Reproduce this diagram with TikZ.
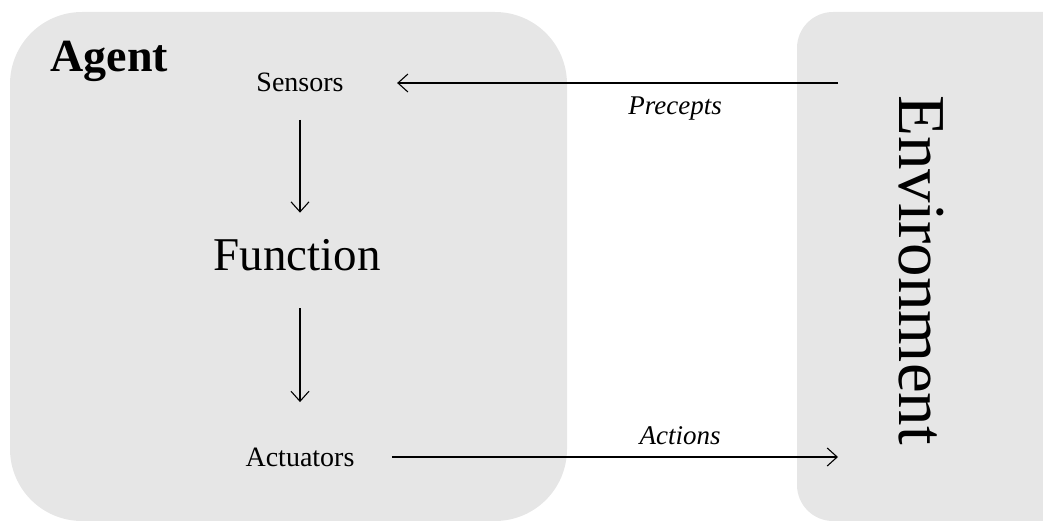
\documentclass[tikz,border=0pt]{standalone}
\usepackage{fontspec}
\setmainfont{Liberation Serif}
\usetikzlibrary{arrows.meta}

\definecolor{boxgray}{HTML}{E6E6E6}

\begin{document}
\begin{tikzpicture}[x=1pt,y=-1pt,line width=1.1pt,
    >={Straight Barb[length=10pt,width=18pt,line width=1.1pt]},
    panel/.style={fill=boxgray,draw=none},
    lbl/.style={inner sep=0pt,font=\fontsize{28}{30}\selectfont},
    edgelbl/.style={inner sep=0pt,font=\fontsize{27}{30}\selectfont\itshape}]
    \useasboundingbox (0,0) rectangle (1043,521);
    \clip (0,0) rectangle (1043,521);
    \fill[panel,rounded corners=72pt] (10,12) rectangle (567,521);
    \fill[panel,rounded corners=36pt] (797,12) rectangle (1080,521);
    \node[anchor=base west,inner sep=0pt,font=\fontsize{46}{48}\selectfont\bfseries] (agent) at (50,72) {Agent};
    \node[inner sep=0pt,rotate=-90,font=\fontsize{67}{70}\selectfont] (env) at (921,270) {Environment};
    \node[lbl] (sen) at (300,82) {Sensors};
    \node[inner sep=0pt,font=\fontsize{47}{50}\selectfont] (fun) at (297,255) {Function};
    \node[lbl] (act) at (300,457) {Actuators};
    \coordinate (pin) at (838,83);
    \coordinate (aout) at (838,457);
    \draw[->,shorten >=53pt] (pin) -- node[edgelbl,pos=0.33,below=13pt] (precepts) {Precepts} (sen.east |- pin);
    \draw[->,shorten <=28pt,shorten >=26pt] (sen) -- (sen |- fun.north);
    \draw[->,shorten <=37pt,shorten >=45pt] (sen |- fun.south) -- (act);
    \draw[->,shorten <=37pt] (act) -- node[edgelbl,pos=0.673,above=12pt] (actions) {Actions} (aout);
\end{tikzpicture}
\end{document}
